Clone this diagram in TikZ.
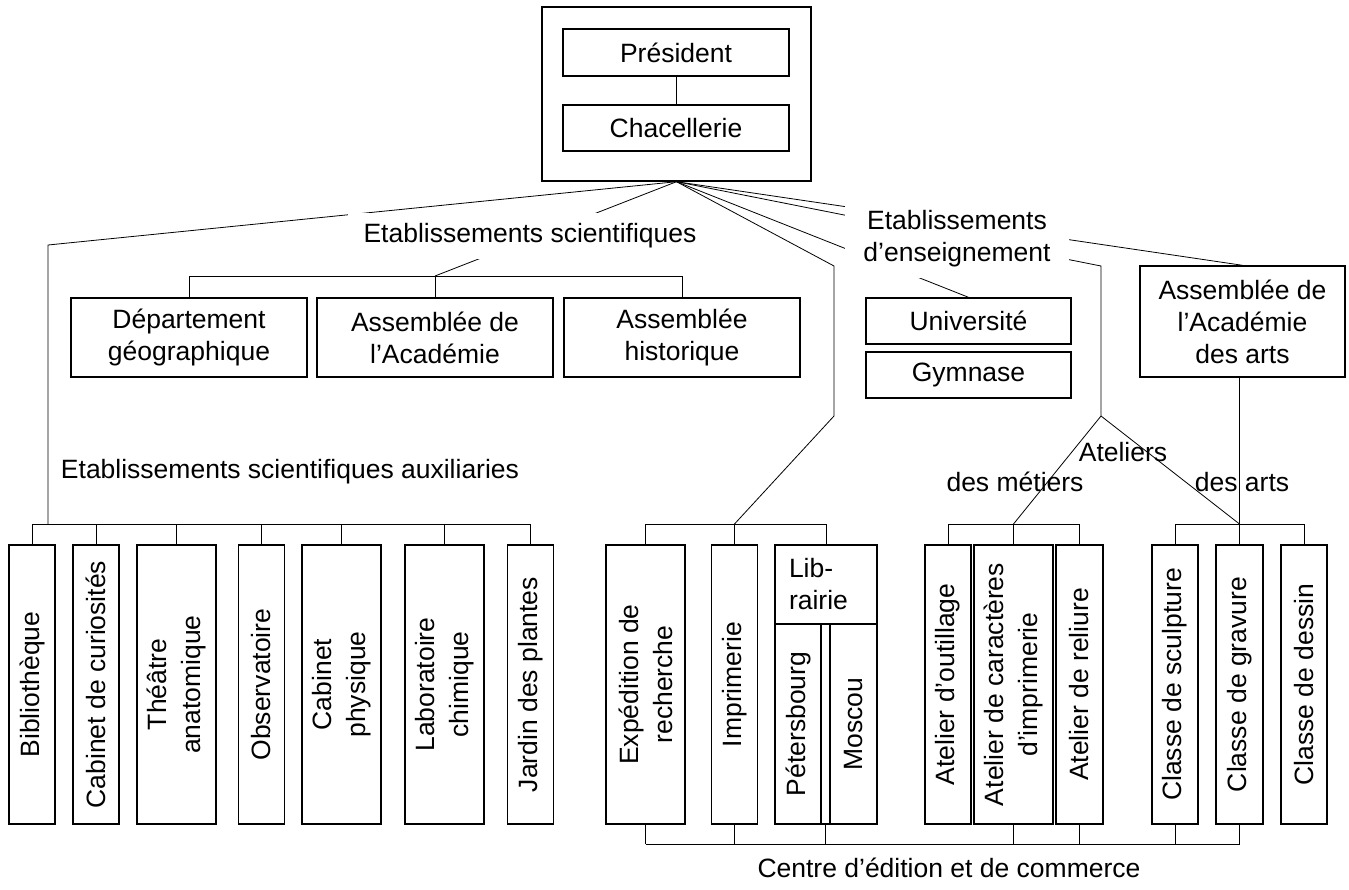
\documentclass[tikz,border=0pt]{standalone}
\usepackage{fontspec}
\setmainfont{Liberation Sans}
\pgfdeclarelayer{back}
\pgfsetlayers{back,main}

\tikzset{
  box/.style={draw, line width=0.7pt, align=center, inner sep=0pt},
  wide/.style={box, minimum width=118pt, minimum height=39.5pt},
  tall/.style={box, rotate=90, minimum width=139.5pt, minimum height=23pt,
    font=\fontsize{13.25}{17}\selectfont},
  tallw/.style={tall, minimum height=39.5pt},
  lab/.style={align=center, inner sep=0pt},
}

\begin{document}
\begin{tikzpicture}[x=0.5pt, y=-0.5pt, line width=0.7pt,
  font=\fontsize{13.25}{16}\selectfont]
\useasboundingbox (0,0) rectangle (1349,889);

\node[box, minimum width=134.5pt, minimum height=87pt] (head) at (676.5,94) {};
\node[box, minimum width=113pt, minimum height=23.5pt] (pres) at (676,52.5) {Président};
\node[box, minimum width=113pt, minimum height=23pt] (chanc) at (676,128) {Chacellerie};

\node[lab, fill=white, minimum width=182pt, minimum height=23pt] (sci) at (530,236) {Etablissements scientifiques};
\node[lab, fill=white, minimum width=112pt, minimum height=39pt] (ens) at (957,239) {Etablissements\\d’enseignement};

\node[wide] (geo) at (189,337.5) {Département\\géographique};
\node[wide] (acad) at (435,337.5) {Assemblée de\\l’Académie};
\node[wide] (hist) at (682,337.5) {Assemblée\\historique};
\node[box, minimum width=102.5pt, minimum height=23pt] (univ) at (968.5,321) {Université};
\node[box, minimum width=102.5pt, minimum height=23pt] (gymn) at (968.5,375) {Gymnase};
\node[box, minimum width=102.5pt, minimum height=55.5pt] (arts) at (1242.5,321.5) {Assemblée de\\l’Académie\\des arts};

\node[lab] (aux) at (290,472) {Etablissements scientifiques auxiliaries};
\node[lab] (atel) at (1123,452) {Ateliers};
\node[lab] (met) at (1015,482) {des métiers};
\node[lab] (desarts) at (1242,482) {des arts};
\node[lab] (centre) at (949,868) {Centre d’édition et de commerce};

% auxiliaires
\node[tall] (bib) at (32,684.5) {Bibliothèque};
\node[tall] (cur) at (96,684.5) {Cabinet de curiosités};
\node[tallw] (theat) at (176.5,684.5) {Théâtre\\anatomique};
\node[tall] (obs) at (261.5,684.5) {Observatoire};
\node[tallw] (phys) at (341.5,684.5) {Cabinet\\physique};
\node[tallw] (chim) at (444.5,684.5) {Laboratoire\\chimique};
\node[tall] (jard) at (530.5,684.5) {Jardin des plantes};

% edition
\node[tallw] (exped) at (645.5,684.5) {Expédition de\\recherche};
\node[tall] (impr) at (734.5,684.5) {Imprimerie};
\node[box, minimum width=51pt, minimum height=39.5pt, inner xsep=7pt, text width=37pt, align=left] (libr) at (826,584.5) {Lib-\\rairie};
\node[tall, minimum width=100pt] (peter) at (798,724) {Pétersbourg};
\node[box, minimum width=4.5pt, minimum height=100pt] (strip) at (825.5,724) {};
\node[tall, minimum width=100pt, minimum height=23.5pt] (mosc) at (853.5,724) {Moscou};

% ateliers
\node[tall] (outil) at (948,684.5) {Atelier d’outillage};
\node[tallw] (caract) at (1013.5,684.5) {Atelier de caractères\\d’imprimerie};
\node[tall, minimum height=23.5pt] (rel) at (1079.5,684.5) {Atelier de reliure};
\node[tall] (sculp) at (1175,684.5) {Classe de sculpture};
\node[tall, minimum height=23.5pt] (grav) at (1239.5,684.5) {Classe de gravure};
\node[tall] (dess) at (1304,684.5) {Classe de dessin};

\coordinate (sbus) at (0,276);
\coordinate (bus) at (0,524);
\coordinate (tops) at (0,545);
\coordinate (bots) at (0,824);
\coordinate (bbus) at (0,844);
\coordinate (lc) at (48,245);
\coordinate (ia) at (834,266);
\coordinate (ib) at (834,416);
\coordinate (ea) at (1101,266);
\coordinate (atp) at (1101,416);

\begin{pgfonlayer}{back}
\path[draw] (pres) edge (chanc)
  (head.south) edge (acad |- sbus)
  (head.south) edge (univ.north)
  (head.south) edge (arts.north);
\draw (head.south) -- (lc) -- (lc |- bus);
\draw (head.south) -- (ia) -- (ib) -- (impr |- bus);
\draw (head.south) -- (ea) -- (atp);
\draw (atp) -- (caract |- bus);
\draw (atp) -- (grav |- bus);
\draw (arts.south -| grav) -- (grav |- bus);

\draw (geo |- sbus) -- (hist |- sbus);
\foreach \n in {geo,acad,hist}
  \draw (\n.north) -- (\n |- sbus);

\draw (bib |- bus) -- (jard |- bus);
\draw (exped |- bus) -- (libr |- bus);
\draw (outil |- bus) -- (rel |- bus);
\draw (sculp |- bus) -- (dess |- bus);
\foreach \n in {bib,cur,theat,obs,phys,chim,jard,exped,impr,libr,outil,caract,rel,sculp,grav,dess}
  \draw (\n |- bus) -- (\n |- tops);

\draw (exped |- bbus) -- (grav |- bbus);
\foreach \n in {exped,impr,strip,caract,rel,sculp,grav}
  \draw (\n |- bots) -- (\n |- bbus);
\end{pgfonlayer}
\end{tikzpicture}
\end{document}
